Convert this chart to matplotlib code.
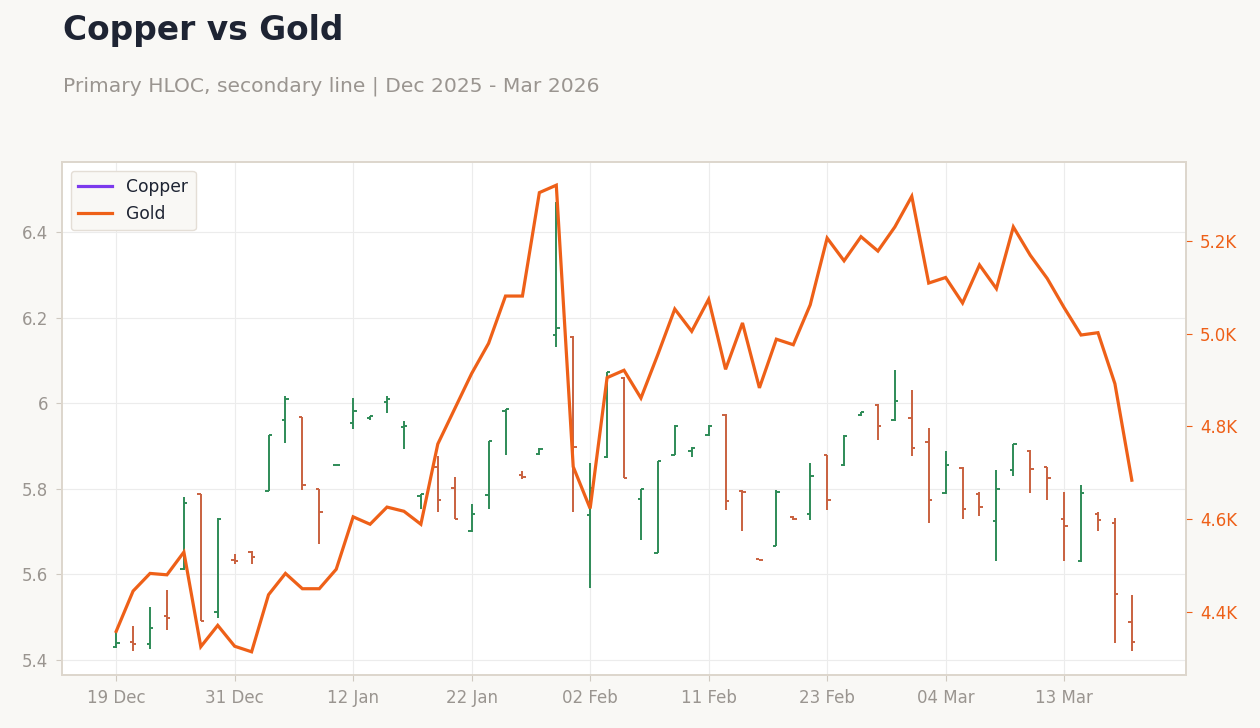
import numpy as np
import pandas as pd
import matplotlib
matplotlib.use('Agg')
import matplotlib.pyplot as plt
from matplotlib.lines import Line2D
from matplotlib.ticker import FuncFormatter

# trading days (US holidays skipped)
dates = pd.bdate_range('2025-12-19', periods=61, freq='C',
                       holidays=['2025-12-25', '2026-01-01', '2026-01-19', '2026-02-16'])

copper_open = [5.430, 5.442, 5.437, 5.502, 5.612, 5.789, 5.512, 5.633, 5.652, 5.796,
               5.962, 5.968, 5.799, 5.856, 5.954, 5.965, 6.004, 5.944, 5.783, 5.851,
               5.803, 5.701, 5.785, 5.981, 5.833, 5.882, 6.159, 6.155, 5.740, 5.874,
               6.059, 5.777, 5.651, 5.880, 5.888, 5.925, 5.972, 5.795, 5.635, 5.666,
               5.734, 5.742, 5.880, 5.855, 5.972, 5.995, 5.960, 5.966, 5.909, 5.790,
               5.849, 5.787, 5.724, 5.845, 5.888, 5.851, 5.730, 5.631, 5.742, 5.721, 5.489]
copper_high = [5.467, 5.479, 5.524, 5.563, 5.781, 5.789, 5.732, 5.648, 5.655, 5.925,
               6.016, 5.969, 5.800, 5.856, 6.012, 5.971, 6.018, 5.958, 5.789, 5.878,
               5.828, 5.765, 5.913, 5.987, 5.841, 5.895, 6.470, 6.157, 5.860, 6.074,
               6.061, 5.800, 5.864, 5.950, 5.899, 5.950, 5.974, 5.797, 5.635, 5.798,
               5.736, 5.860, 5.880, 5.926, 5.980, 5.999, 6.079, 6.030, 5.943, 5.888,
               5.850, 5.793, 5.845, 5.905, 5.890, 5.852, 5.793, 5.808, 5.747, 5.733, 5.553]
copper_low = [5.428, 5.420, 5.425, 5.471, 5.610, 5.491, 5.499, 5.625, 5.625, 5.796,
              5.907, 5.798, 5.672, 5.856, 5.940, 5.960, 5.978, 5.894, 5.752, 5.747,
              5.729, 5.699, 5.754, 5.880, 5.822, 5.880, 6.131, 5.747, 5.569, 5.873,
              5.825, 5.681, 5.650, 5.879, 5.874, 5.923, 5.751, 5.701, 5.634, 5.666,
              5.727, 5.728, 5.751, 5.853, 5.970, 5.915, 5.958, 5.877, 5.721, 5.788,
              5.730, 5.736, 5.631, 5.831, 5.791, 5.775, 5.631, 5.630, 5.701, 5.440, 5.420]
copper_close = [5.440, 5.438, 5.476, 5.498, 5.768, 5.491, 5.729, 5.631, 5.641, 5.925,
                6.011, 5.810, 5.746, 5.856, 5.983, 5.970, 6.011, 5.948, 5.787, 5.775,
                5.730, 5.742, 5.913, 5.986, 5.828, 5.894, 6.176, 5.898, 5.802, 6.073,
                5.825, 5.800, 5.864, 5.946, 5.895, 5.948, 5.771, 5.793, 5.634, 5.793,
                5.729, 5.831, 5.775, 5.923, 5.979, 5.947, 6.005, 5.896, 5.775, 5.856,
                5.754, 5.757, 5.800, 5.904, 5.847, 5.826, 5.713, 5.790, 5.728, 5.555, 5.442]
gold = [4358, 4445, 4483, 4480, 4529, 4325, 4371, 4326, 4314, 4437,
        4483, 4450, 4450, 4492, 4605, 4589, 4626, 4617, 4589, 4762,
        4838, 4914, 4979, 5081, 5081, 5304, 5320, 4713, 4623, 4905,
        4921, 4861, 4955, 5053, 5005, 5074, 4923, 5023, 4883, 4988,
        4976, 5062, 5206, 5157, 5209, 5178, 5230, 5296, 5109, 5121,
        5066, 5148, 5097, 5230, 5169, 5119, 5056, 4997, 5002, 4892, 4684]

UP = '#2e8b57'
DOWN = '#c9613f'
GOLD = '#ee6018'
PURPLE = '#7c3aed'
GREY = '#9a9590'
BG = '#f9f8f5'
SPINE = '#ddd6cc'

x = np.arange(len(dates))
o = np.array(copper_open)
h = np.array(copper_high)
l = np.array(copper_low)
c = np.array(copper_close)
cols = np.where(c >= o, UP, DOWN)

fig = plt.figure(figsize=(12.6, 7.28), dpi=100, facecolor=BG)
ax = fig.add_axes([62/1260, 1 - 675/728, (1186 - 62)/1260, (675 - 162)/728])
ax.set_facecolor('white')

tw = 0.2
ax.vlines(x, l, h, colors=cols, lw=1.4)
ax.hlines(o, x - tw, x, colors=cols, lw=1.4)
ax.hlines(c, x, x + tw, colors=cols, lw=1.4)

ax.set_xlim(-3.2, 63.2)
ax.set_ylim(5.365, 6.564)
ax.set_yticks(np.arange(5.4, 6.41, 0.2))
ax.yaxis.set_major_formatter(FuncFormatter(lambda v, p: f'{round(v, 1):g}'))
ax.set_xticks(x[::7])
ax.set_xticklabels(dates[::7].strftime('%d %b'))
ax.grid(True, color='#ececec', lw=0.8)
ax.set_axisbelow(True)
ax.tick_params(axis='both', colors='#cfc9c0', labelcolor=GREY, labelsize=12, length=4, width=0.8, pad=6)
for s in ax.spines.values():
    s.set_color(SPINE)
    s.set_linewidth(1.2)

ax2 = ax.twinx()
ax2.plot(x, gold, color=GOLD, lw=2.3, solid_joinstyle='miter')
ax2.set_ylim(4264, 5370)
ax2.set_yticks(np.arange(4400, 5201, 200))
ax2.yaxis.set_major_formatter(FuncFormatter(lambda v, p: f'{v/1000:.1f}K'))
ax2.tick_params(axis='y', colors=GOLD, labelcolor=GOLD, labelsize=12, length=4, width=0.8, pad=6)
for s in ax2.spines.values():
    s.set_color(SPINE)
    s.set_linewidth(1.2)

handles = [Line2D([], [], color=PURPLE, lw=2.3), Line2D([], [], color=GOLD, lw=2.3)]
leg = ax2.legend(handles, ['Copper', 'Gold'], loc='upper left', fontsize=12.3,
                 frameon=True, facecolor=BG, edgecolor='#e4ded6', framealpha=1,
                 borderpad=0.45, handlelength=2.0)
for t in leg.get_texts():
    t.set_color('#1e2433')

fig.text(63/1260, 1 - 40/728, 'Copper vs Gold', fontsize=23.7, fontweight='bold',
         color='#1e2433', va='baseline', ha='left')
fig.text(63/1260, 1 - 91/728, 'Primary HLOC, secondary line | Dec 2025 - Mar 2026',
         fontsize=14.6, color=GREY, va='baseline', ha='left')

fig.savefig('out.png', dpi=100, facecolor=BG)
